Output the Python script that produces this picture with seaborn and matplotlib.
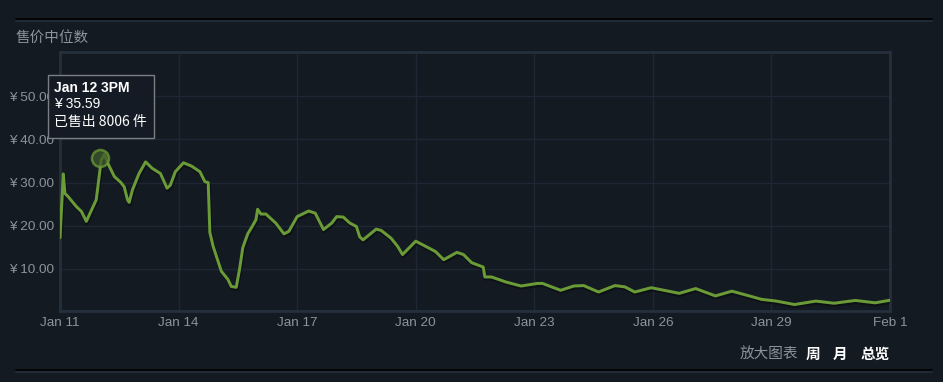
import numpy as np
import pandas as pd
import matplotlib
matplotlib.use("Agg")
import matplotlib.pyplot as plt
import matplotlib.dates as mdates
import seaborn as sns

# ---- data ----
start_date = "2024-01-11 00:00"
hours = [0, 2, 3, 5, 10, 13, 16, 22, 23, 25, 27, 29, 33, 37, 39, 41, 42, 44, 48, 52,
         56, 61, 65, 67, 70, 75, 80, 85, 88, 90, 91, 93, 96, 98, 102, 104, 107, 109, 111, 114,
         117, 119, 120, 122, 125, 131, 136, 139, 144, 151, 155, 160, 165, 168, 172, 176, 180, 182, 184, 192,
         195, 201, 205, 208, 216, 222, 228, 233, 241, 245, 250, 257, 258, 262, 271, 280, 290, 293, 304, 312,
         318, 327, 337, 343, 349, 359, 376, 386, 398, 408, 419, 426, 435, 446, 459, 470, 483, 495, 504]
prices = [17.2, 32.0, 27.5, 26.7, 24.4, 23.3, 21.0, 26.0, 29.0, 35.2, 36.6, 34.5, 31.4, 30.0, 29.0, 26.0, 25.4, 28.3, 32.1, 34.8,
          33.3, 32.1, 28.7, 29.4, 32.5, 34.6, 33.8, 32.5, 30.2, 30.0, 18.4, 15.2, 11.7, 9.4, 7.5, 5.9, 5.7, 9.8, 14.9, 18.1,
          20.0, 21.4, 23.8, 22.7, 22.7, 20.6, 18.1, 18.7, 22.1, 23.4, 22.9, 19.1, 20.6, 22.1, 22.0, 20.6, 19.8, 17.4, 16.7, 19.2,
          18.9, 17.1, 15.2, 13.3, 16.4, 15.2, 14.0, 12.1, 13.8, 13.3, 11.4, 10.4, 8.1, 8.1, 6.9, 6.0, 6.6, 6.6, 5.0, 6.0,
          6.1, 4.6, 6.1, 5.8, 4.6, 5.6, 4.3, 5.4, 3.7, 4.8, 3.65, 2.9, 2.5, 1.7, 2.5, 2.0, 2.65, 2.1, 2.7]
tick_dates = ["2024-01-11", "2024-01-14", "2024-01-17", "2024-01-20", "2024-01-23",
              "2024-01-26", "2024-01-29", "2024-02-01"]
tick_labels = ["Jan 11", "Jan 14", "Jan 17", "Jan 20", "Jan 23", "Jan 26", "Jan 29", "Feb 1"]
y_ticks = [10, 20, 30, 40, 50]
y_labels = ["¥ 10.00", "¥ 20.00", "¥ 30.00", "¥ 40.00", "¥ 50.00"]
hover_hour = 24
hover_price = 35.59
tooltip_lines = ["Jan 12 3PM", "¥ 35.59", "已售出 8006 件"]
title = "售价中位数"
footer_grey = "放大图表"
footer_links = ["周", "月", "总览"]

# ---- style ----
sns.set_theme(style="dark")
plt.rcParams['font.family'] = ['Noto Sans CJK SC', 'DejaVu Sans']
BG = "#141a22"
GRID = "#1e2834"
BORDER = "#25303d"
GREEN = "#6b9b37"
GREYTXT = "#8b939b"

t0 = pd.Timestamp(start_date)
df = pd.DataFrame({"time": [t0 + pd.Timedelta(hours=h) for h in hours], "price": prices})

W, H = 943, 382
fig = plt.figure(figsize=(W / 100, H / 100), dpi=100, facecolor=BG)
ax = fig.add_axes([60 / W, 1 - 311 / H, 830 / W, 259 / H])
ax.set_facecolor(BG)

# shadow line then main line
sns.lineplot(data=df, x="time", y="price", ax=ax, color="#0b0f14", linewidth=2.8,
             alpha=0.8, zorder=2,
             transform=ax.transData + matplotlib.transforms.ScaledTranslation(0.5 / 72, -1.2 / 72, fig.dpi_scale_trans))
sns.lineplot(data=df, x="time", y="price", ax=ax, color=GREEN, linewidth=2.15, zorder=3)

ax.set_xlim(pd.Timestamp(tick_dates[0]), pd.Timestamp(tick_dates[-1]))
ax.set_ylim(0.2, 60.3)
ax.set_xticks([pd.Timestamp(d) for d in tick_dates])
ax.set_xticklabels(tick_labels)
ax.set_yticks(y_ticks)
ax.set_yticklabels(y_labels)
ax.set_xlabel("")
ax.set_ylabel("")
ax.grid(True, color=GRID, linewidth=1.0)
ax.tick_params(axis="both", length=0, colors=GREYTXT, labelsize=9)
ax.tick_params(axis="y", pad=4)
ax.tick_params(axis="x", pad=4)
for lab in ax.get_xticklabels() + ax.get_yticklabels():
    lab.set_family(['Liberation Sans', 'DejaVu Sans'])
    lab.set_color(GREYTXT)
    lab.set_fontsize(9.7)
for sp in ax.spines.values():
    sp.set_visible(True)
    sp.set_color(BORDER)
    sp.set_linewidth(2)

# hover marker
hx = t0 + pd.Timedelta(hours=hover_hour)
ax.scatter([hx], [hover_price], s=150, facecolor="#3f5a2a", edgecolor=GREEN,
           linewidth=1.8, alpha=0.75, zorder=4)

# tooltip
fig.patches.append(matplotlib.patches.Rectangle((48 / W, 1 - 138 / H), 106 / W, 63 / H,
                   transform=fig.transFigure, facecolor="#141b25", edgecolor="#7a7f85",
                   linewidth=1, zorder=10))
fig.text(54 / W, 1 - 88 / H, tooltip_lines[0], color="white", fontsize=10, fontweight="bold",
         va="center", ha="left", family=['Liberation Sans', 'DejaVu Sans'], zorder=11)
fig.text(54 / W, 1 - 104 / H, tooltip_lines[1], color="white", fontsize=10,
         va="center", ha="left", family=['Liberation Sans', 'DejaVu Sans'], zorder=11)
fig.text(54 / W, 1 - 122 / H, tooltip_lines[2], color="white", fontsize=10,
         va="center", ha="left", family=['Noto Sans CJK SC', 'DejaVu Sans'], zorder=11)

# title
fig.text(16 / W, 1 - 38 / H, title, color=GREYTXT, fontsize=10.5, va="center", ha="left")

# footer
fig.text(740 / W, 1 - 354 / H, footer_grey, color=GREYTXT, fontsize=10.5, va="center", ha="left")
for xpos, t in zip([806, 833, 861], footer_links):
    fig.text(xpos / W, 1 - 354 / H, t, color="white", fontsize=10.5, fontweight="bold",
             va="center", ha="left")

# separator lines
for yy in (19, 370):
    fig.add_artist(matplotlib.lines.Line2D([16 / W, 932 / W], [1 - yy / H, 1 - yy / H],
                   color="#000000", linewidth=1.2, transform=fig.transFigure))
    fig.add_artist(matplotlib.lines.Line2D([16 / W, 932 / W], [1 - (yy + 2) / H, 1 - (yy + 2) / H],
                   color="#1f2a36", linewidth=1.5, transform=fig.transFigure))

fig.savefig("out.png", dpi=100, facecolor=BG)
